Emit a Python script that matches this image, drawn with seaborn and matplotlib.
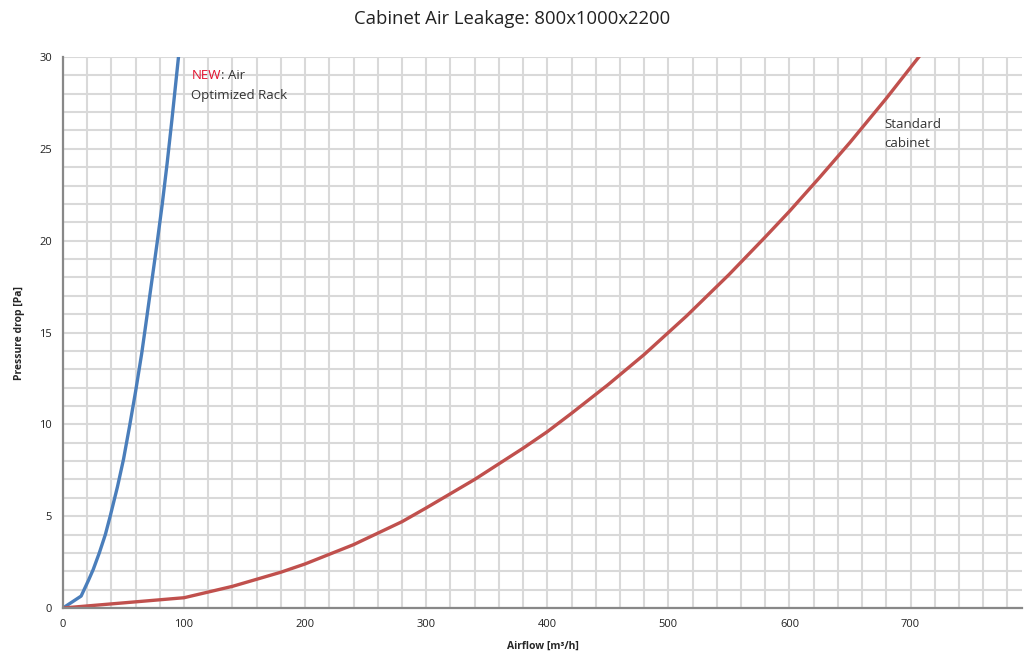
import numpy as np
import pandas as pd
import matplotlib
matplotlib.use("Agg")
import matplotlib.pyplot as plt
from matplotlib.ticker import MultipleLocator
import seaborn as sns

# Values
air_rack_flow = [0, 15, 21, 25, 30, 35, 39, 45, 50, 55, 60, 65, 68, 72, 78, 82, 86, 90, 95.4]
air_rack_dp = [0, 0.65, 1.5, 2.1, 3.0, 4.0, 5.0, 6.6, 8.1, 9.9, 11.8, 13.85, 15.25, 17.15, 20.0, 22.0, 24.2, 26.6, 30.0]

std_flow = [0, 50, 100, 140, 180, 200, 240, 280, 300, 340, 380, 400, 420, 450, 480,
            500, 515, 550, 580, 600, 625, 650, 680, 708]
std_dp = [0, 0.28, 0.56, 1.18, 1.95, 2.4, 3.45, 4.7, 5.45, 7.0, 8.7, 9.6, 10.6, 12.15, 13.8,
          15.0, 15.9, 18.15, 20.2, 21.6, 23.45, 25.35, 27.75, 30.1]

title = "Cabinet Air Leakage: 800x1000x2200"
x_label = "Airflow [m³/h]"
y_label = "Pressure drop [Pa]"

sns.set_theme(style="white")
plt.rcParams['font.family'] = ['Open Sans', 'DejaVu Sans']

df_air = pd.DataFrame({'flow': air_rack_flow, 'dp': air_rack_dp})
df_std = pd.DataFrame({'flow': std_flow, 'dp': std_dp})

fig = plt.figure(figsize=(10.24, 6.53), dpi=100)
ax = fig.add_axes([0.0615, 0.0689, 0.9365, 0.8438])

sns.lineplot(data=df_air, x='flow', y='dp', ax=ax, color='#4a7ebb', linewidth=2.4, sort=False)
sns.lineplot(data=df_std, x='flow', y='dp', ax=ax, color='#c0504d', linewidth=2.4, sort=False)

ax.set_xlim(0, 792)
ax.set_ylim(0, 30)
ax.xaxis.set_major_locator(MultipleLocator(100))
ax.xaxis.set_minor_locator(MultipleLocator(20))
ax.yaxis.set_major_locator(MultipleLocator(5))
ax.yaxis.set_minor_locator(MultipleLocator(1))
ax.grid(which='both', color='#d9d9d9', linewidth=1.5, zorder=0)
ax.set_axisbelow(True)
ax.tick_params(which='both', length=0, labelsize=8, colors='#222222')
ax.tick_params(axis='x', pad=8)
ax.tick_params(axis='y', pad=8)

for side in ['top', 'right']:
    ax.spines[side].set_visible(False)
for side in ['left', 'bottom']:
    ax.spines[side].set_color('#888888')
    ax.spines[side].set_linewidth(1.6)

ax.set_xlabel(x_label, fontsize=7.5, fontweight='bold', labelpad=8)
ax.set_ylabel(y_label, fontsize=7.5, fontweight='bold', labelpad=10)
fig.suptitle(title, fontsize=13.3, y=0.985, color='#222222')

# curve labels
t_new = ax.text(106, 29.0, "NEW", color='#e3112d', fontsize=9.5, va='center', ha='left')
ax.annotate(": Air", xy=(1, 0), xycoords=t_new, va='bottom', ha='left',
            fontsize=9.5, color='#333333')
ax.text(106, 27.9, "Optimized Rack", color='#333333', fontsize=9.5, va='center', ha='left')
ax.text(678, 26.3, "Standard", color='#333333', fontsize=9.5, va='center', ha='left')
ax.text(678, 25.3, "cabinet", color='#333333', fontsize=9.5, va='center', ha='left')

fig.savefig('out.png', dpi=100)
